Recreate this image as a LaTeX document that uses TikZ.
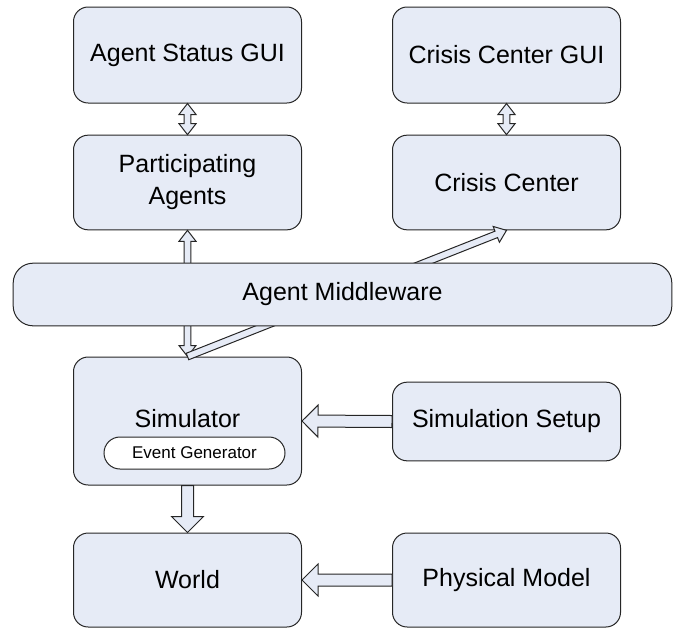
\documentclass[tikz,border=0pt]{standalone}
\usepackage{fontspec}
\setmainfont{Liberation Sans}
\usetikzlibrary{calc}

\definecolor{boxfill}{RGB}{230,235,246}

\tikzset{
  box/.style={draw=black!85, line width=0.75pt, fill=boxfill, rounded corners=11pt,
    minimum width=171pt, align=center, font=\fontsize{18.75}{24}\selectfont},
  pill/.style={draw=black!85, line width=0.75pt, fill=white, rounded corners=12pt,
    minimum width=135.75pt, minimum height=24pt, inner sep=0pt,
    font=\fontsize{12.75}{14}\selectfont},
  %% hollow block arrow: half shaft, half head, head length
  fat/.style n args={3}{draw=black!85, line width=0.75pt, fill=boxfill, to path={
    let \p1=(\tikztostart), \p2=(\tikztotarget),
        \n1={atan2(\y2-\y1,\x2-\x1)} in
    ($(\p1)+(\n1+90:#1)$)
    -- ($(\p2)+(\n1+180:#3)+(\n1+90:#1)$)
    -- ($(\p2)+(\n1+180:#3)+(\n1+90:#2)$)
    -- (\p2)
    -- ($(\p2)+(\n1+180:#3)+(\n1-90:#2)$)
    -- ($(\p2)+(\n1+180:#3)+(\n1-90:#1)$)
    -- ($(\p1)+(\n1-90:#1)$) -- cycle}},
  %% same, with a head at both ends
  dfat/.style n args={3}{draw=black!85, line width=0.75pt, fill=boxfill, to path={
    let \p1=(\tikztostart), \p2=(\tikztotarget),
        \n1={atan2(\y2-\y1,\x2-\x1)} in
    ($(\p1)+(\n1:#3)+(\n1+90:#1)$)
    -- ($(\p2)+(\n1+180:#3)+(\n1+90:#1)$)
    -- ($(\p2)+(\n1+180:#3)+(\n1+90:#2)$)
    -- (\p2)
    -- ($(\p2)+(\n1+180:#3)+(\n1-90:#2)$)
    -- ($(\p2)+(\n1+180:#3)+(\n1-90:#1)$)
    -- ($(\p1)+(\n1:#3)+(\n1-90:#1)$)
    -- ($(\p1)+(\n1:#3)+(\n1-90:#2)$)
    -- (\p1)
    -- ($(\p1)+(\n1:#3)+(\n1+90:#2)$) -- cycle}},
}

\begin{document}
\begin{tikzpicture}[x=0.75pt,y=-0.75pt]
\useasboundingbox (0,0) rectangle (673,628);

%% GUIs and agents
\node[box, minimum height=72pt] (agentgui) at (187.5,55) {Agent Status GUI};
\node[box, minimum height=72pt] (crisisgui) at (506.5,55) {Crisis Center GUI};
\node[box, minimum height=71pt] (agents) at (187.5,182.5) {Participating\\Agents};
\node[box, minimum height=71pt] (crisis) at (506.5,182.5) {Crisis Center};

%% Simulation side
\node[box, minimum height=96pt] (sim) at (187.5,421) {};
\node[font=\fontsize{18.75}{24}\selectfont] (simlbl) at (187.5,419) {Simulator};
\node[pill] (evgen) at (194.5,453) {Event Generator};
\node[box, minimum height=59pt] (setup) at (506.5,421.5) {Simulation Setup};
\node[box, minimum height=70.5pt] (world) at (187.5,580) {World};
\node[box, minimum height=70.5pt] (phys) at (506.5,580) {Physical Model};

%% Arrows behind the middleware
\draw[dfat={2.6pt}{6.4pt}{8.25pt}] (sim.north) to (agents.south);
\draw[fat={2.6pt}{6.4pt}{8.25pt}] (sim.north) to (crisis.south);

%% Middleware
\node[box, minimum width=494pt, minimum height=47pt, rounded corners=15pt] (mw) at (342.5,294.5) {Agent Middleware};

%% GUI links
\draw[dfat={2.6pt}{6.4pt}{8.25pt}] (agents.north) to (agentgui.south);
\draw[dfat={2.6pt}{6.4pt}{8.25pt}] (crisis.north) to (crisisgui.south);

%% Inputs
\draw[fat={4.5pt}{12pt}{12pt}] (setup.west) to (sim.east);
\draw[fat={4.5pt}{12pt}{12pt}] (phys.west) to (world.east);
\draw[fat={4.5pt}{12pt}{12pt}] (sim.south) to (world.north);

\end{tikzpicture}
\end{document}
